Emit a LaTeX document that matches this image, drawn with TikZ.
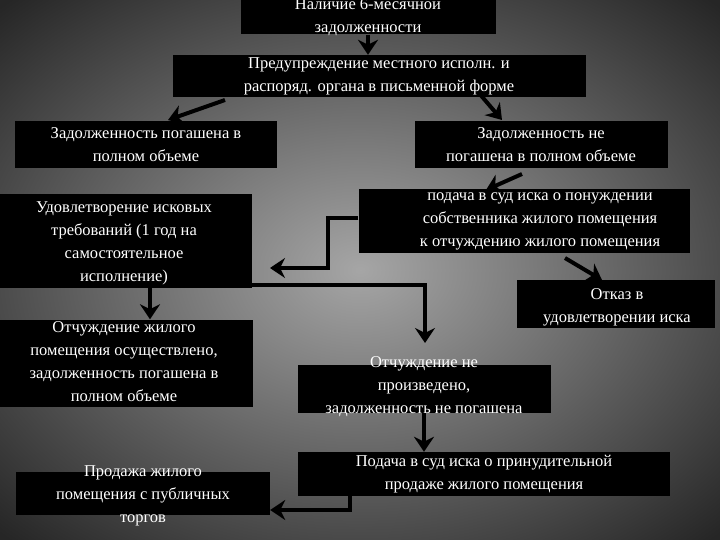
\documentclass[tikz,border=0pt]{standalone}
\usepackage{fontspec}
\setmainfont{Liberation Serif}
\usetikzlibrary{arrows.meta}
\begin{document}
\begin{tikzpicture}[x=1pt,y=-1pt,
  bx/.style={fill=black,draw=none,inner sep=0pt},
  tx/.style={text=white,align=center,font=\fontsize{16.5}{23}\selectfont,inner sep=0pt},
  arr/.style={draw=black,line width=4pt,-{Stealth[length=15pt,width=20pt]}}]
\useasboundingbox (0,0) rectangle (720,540);
\shade[inner color=gray!70!white,outer color=black!85] (-150,-100) rectangle (870,640);
% boxes
\node[bx,minimum width=255pt,minimum height=35pt] (b1) at (368,17) {};
\node[bx,minimum width=413pt,minimum height=42pt] (b2) at (379,76) {};
\node[bx,minimum width=262pt,minimum height=47pt] (b3) at (146,145) {};
\node[bx,minimum width=253pt,minimum height=47pt] (b4) at (541,145) {};
\node[bx,minimum width=252pt,minimum height=93pt] (b5) at (126,241) {};
\node[bx,minimum width=331pt,minimum height=63pt] (b6) at (524,221) {};
\node[bx,minimum width=198pt,minimum height=48pt] (b7) at (616,304) {};
\node[bx,minimum width=253pt,minimum height=87pt] (b8) at (126,363) {};
\node[bx,minimum width=253pt,minimum height=48pt] (b9) at (424,389) {};
\node[bx,minimum width=372pt,minimum height=44pt] (b10) at (484,474) {};
\node[bx,minimum width=254pt,minimum height=43pt] (b11) at (143,493) {};
% texts
\node[tx] (t1) at (368,17) {Наличие 6-месячной\\задолженности};
\node[tx] (t2) at (379,76) {Предупреждение местного исполн. и\\распоряд. органа в письменной форме};
\node[tx] (t3) at (146,145) {Задолженность погашена в\\полном объеме};
\node[tx] (t4) at (541,145) {Задолженность не\\погашена в полном объеме};
\node[tx] (t5) at (124,243) {Удовлетворение исковых\\требований (1 год на\\самостоятельное\\исполнение)};
\node[tx] (t6) at (540,221) {подача в суд иска о понуждении\\собственника жилого помещения\\к отчуждению жилого помещения};
\node[tx] (t7) at (617,307) {Отказ в\\удовлетворении иска};
\node[tx] (t8) at (124,362) {Отчуждение жилого\\помещения осуществлено,\\задолженность погашена в\\полном объеме};
\node[tx] (t9) at (424,387) {Отчуждение не\\произведено,\\задолженность не погашена};
\node[tx] (t10) at (484,474) {Подача в суд иска о принудительной\\продаже жилого помещения};
\node[tx] (t11) at (143,496) {Продажа жилого\\помещения с публичных\\торгов};
% connectors
\coordinate (c1) at (328,218);
\coordinate (c2) at (328,268);
\coordinate (c3) at (270,268);
\coordinate (c4) at (230,285);
\coordinate (c5) at (425,285);
\coordinate (c6) at (350,510);
\coordinate (c7) at (150,0);
\draw[arr] (b1.south) -- (b1.south |- b2.north);
\draw[arr] (225,100) -- (168,120);
\draw[arr] (478,92) -- (502,120);
\draw[arr] (522,174) -- (486,190);
\draw[arr] (565,258) -- (602,280);
\draw[arr] (b6.west |- c1) -- (c1) -- (c2) -- (c3);
\draw[arr] (c7 |- b5.south) -- (c7 |- b8.north);
\draw[arr] (c4) -- (c5) -- (425,343);
\draw[arr] (b9.south) -- (b9.south |- b10.north);
\draw[arr] (c6 |- b10.south) -- (c6) -- (b11.east |- c6);
\end{tikzpicture}
\end{document}
